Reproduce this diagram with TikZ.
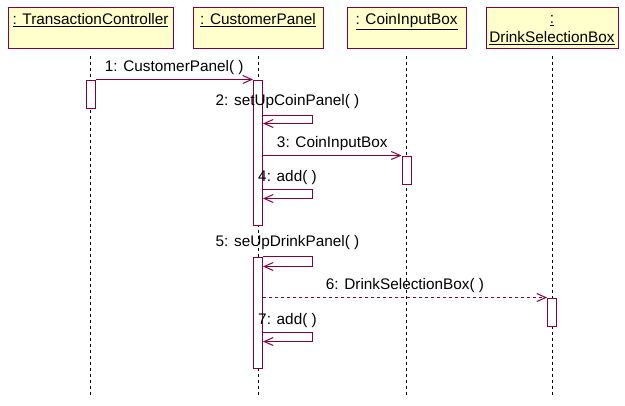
\documentclass[tikz,border=0pt]{standalone}
\usepackage{fontspec}
\setmainfont{Liberation Sans}
\usetikzlibrary{positioning,arrows.meta,calc}
\definecolor{umlred}{RGB}{128,0,64}
\definecolor{umlfill}{RGB}{255,255,204}
\tikzset{
head/.style={draw=umlred, fill=umlfill, line width=0.75pt, rectangle,
  minimum height=30.75pt, inner sep=0pt},
headtext/.style={anchor=base, inner sep=0pt, align=center,
  font=\fontsize{11.5}{14.25}\selectfont},
life/.style={draw=black, line width=0.75pt, dash pattern=on 2.25pt off 2.25pt},
act/.style={draw=umlred, fill=white, line width=0.75pt, rectangle,
  minimum width=6.75pt, inner sep=0pt},
msg/.style={draw=umlred, line width=0.75pt, ->},
msglbl/.style={midway, anchor=base, yshift=6pt, inner sep=0pt, text=black,
  font=\fontsize{11.5}{14}\selectfont},
>={Straight Barb[length=6.75pt,width=6pt]},
}

\begin{document}
\begin{tikzpicture}[x=0.75pt,y=-0.75pt]
        \useasboundingbox (0,0) rectangle (625,405);
        \node[head, minimum width=123.75pt] (tc)  at (90.5,27.5) {};
        \node[head, minimum width=97.5pt]   (cp)  at (258,27.5)  {};
        \node[head, minimum width=89.25pt]  (cib) at (406.5,27.5) {};
        \node[head, minimum width=99pt]     (dsb) at (552,27.5)  {};
        \node[headtext] (tct)  at ($(tc.north)+(0,18)$)  {\underline{: TransactionController}};
        \node[headtext] (cpt)  at ($(cp.north)+(0,18)$)  {\underline{: CustomerPanel}};
        \node[headtext] (cibt) at ($(cib.north)+(0,18)$) {\underline{: CoinInputBox}};
        \node[headtext] (dsbt) at ($(dsb.north)+(0,36)$) {\underline{:}\\\underline{DrinkSelectionBox}};

        \foreach \h in {tc,cp,cib,dsb}
            \draw[life] ($(\h.south)+(0,7)$) -- ($(\h.south)+(0,347)$);

        \node[act, minimum height=21pt]     (tca)  at (90.5,94)   {};
        \node[act, minimum height=108.75pt] (cpa1) at (258,152.5) {};
        \node[act, minimum height=83.25pt]  (cpa2) at (258,312.5) {};
        \node[act, minimum height=21pt]     (ciba) at (406.5,170) {};
        \node[act, minimum height=21pt]     (dsba) at (552,312)   {};

        \draw[msg] (tca.north east) -- node[msglbl] (m1) {1: CustomerPanel( )} (cpa1.north west);
        \draw[msg] ($(cpa1.north east)+(0,36)$) -- node[msglbl, yshift=1.5pt] (m2) {2: setUpCoinPanel( )} ++(49,0)
            -- ++(0,8) -- ($(cpa1.north east)+(0,44)$);
        \draw[msg] (cpa1.east |- ciba.north) -- node[msglbl] (m3) {3: CoinInputBox} (ciba.north west);
        \draw[msg] ($(cpa1.north east)+(0,110)$) -- node[msglbl] (m4) {4: add( )} ++(49,0)
            -- ++(0,9) -- ($(cpa1.north east)+(0,119)$);
        \draw[msg] (cpa2.north east) -- node[msglbl, yshift=1.5pt] (m5) {5: seUpDrinkPanel( )} ++(49,0)
            -- ++(0,10) -- ($(cpa2.north east)+(0,10)$);
        \draw[msg, dash pattern=on 2.25pt off 2.25pt] (cpa2.east |- dsba.north) -- node[msglbl] (m6) {6: DrinkSelectionBox( )} (dsba.north west);
        \draw[msg] ($(cpa2.north east)+(0,76)$) -- node[msglbl] (m7) {7: add( )} ++(49,0)
            -- ++(0,9) -- ($(cpa2.north east)+(0,85)$);
\end{tikzpicture}
\end{document}
